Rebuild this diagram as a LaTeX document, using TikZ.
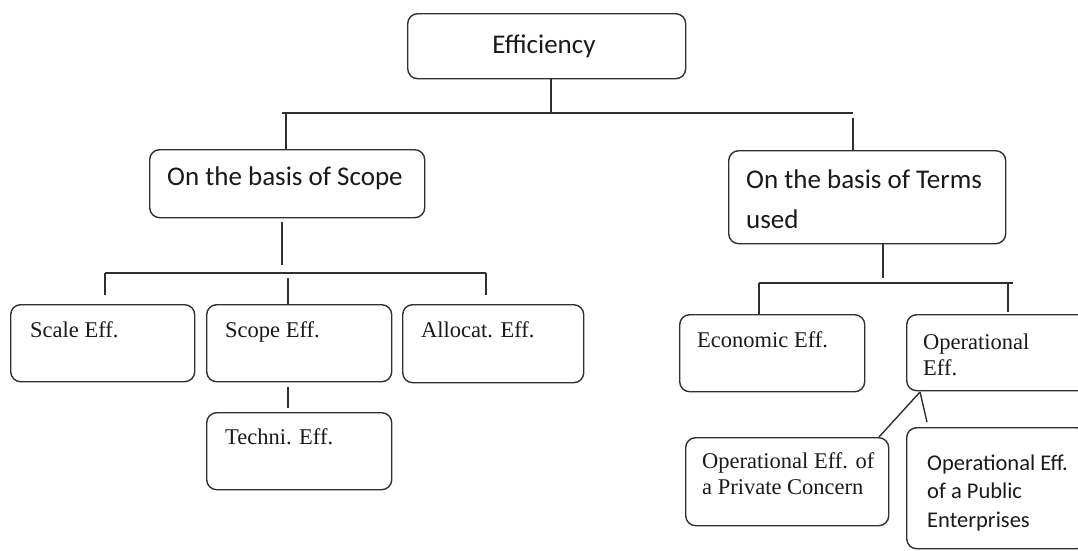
\documentclass[tikz,border=0pt]{standalone}
\usepackage{fontspec}
\setmainfont{Liberation Serif}
\newfontfamily\carl{Carlito}
\definecolor{ln}{HTML}{303030}
\definecolor{tx}{HTML}{1A1A1A}
\begin{document}
\begin{tikzpicture}[x=1pt,y=-1pt,
  box/.style={draw=ln, line width=1.4pt, rounded corners=10pt, anchor=north west, inner sep=0pt},
  conn/.style={draw=ln, line width=1.4pt},
  cbig/.style={font=\carl\fontsize{27}{32}\selectfont, inner sep=0pt, anchor=base west, text=tx},
  csm/.style={font=\carl\fontsize{22.5}{27}\selectfont, inner sep=0pt, anchor=base west, text=tx},
  tms/.style={font=\fontsize{22.5}{26}\selectfont, inner sep=0pt, anchor=base west, text=tx}]
\useasboundingbox (0,0) rectangle (1078,550);
\fill[white] (0,0) rectangle (1078,550);
\clip (0,0) rectangle (1078,550);

% boxes
\node[box, minimum width=278pt, minimum height=65pt] (eff) at (407,13) {};
\node[box, minimum width=275pt, minimum height=68pt] (scope) at (149,149) {};
\node[box, minimum width=277pt, minimum height=93pt] (terms) at (728,150) {};
\node[box, minimum width=184pt, minimum height=77pt] (scale) at (10,304) {};
\node[box, minimum width=185pt, minimum height=77pt] (scopeeff) at (206,304) {};
\node[box, minimum width=181pt, minimum height=78pt] (alloc) at (402,304) {};
\node[box, minimum width=185pt, minimum height=77pt] (techni) at (206,412) {};
\node[box, minimum width=185pt, minimum height=77pt] (econ) at (679,314) {};
\node[box, minimum width=190pt, minimum height=76pt] (oper) at (906,314) {};
\node[box, minimum width=203pt, minimum height=88pt] (priv) at (685,437) {};
\node[box, minimum width=180pt, minimum height=121pt] (pub) at (906,427) {};

% texts
\node[cbig, anchor=base] (effT) at (544,53) {Efficiency};
\node[cbig] (scopeT) at (167,185) {On the basis of Scope};
\node[cbig] (termsT1) at (746,188) {On the basis of Terms};
\node[cbig] (termsT2) at (746,228) {used};
\node[tms] (scaleT) at (30,337) {Scale Eff.};
\node[tms] (scopeeffT) at (225,337) {Scope Eff.};
\node[tms] (allocT) at (421,337) {Allocat. Eff.};
\node[tms] (techniT) at (225,444) {Techni. Eff.};
\node[tms] (econT) at (697,347) {Economic Eff.};
\node[tms] (operT1) at (923,349) {Operational};
\node[tms] (operT2) at (923,375) {Eff.};
\node[tms] (privT1) at (702,468) {Operational Eff. of};
\node[tms] (privT2) at (702,494) {a Private Concern};
\node[csm] (pubT1) at (927,470) {Operational Eff.};
\node[csm] (pubT2) at (927,498) {of a Public};
\node[csm] (pubT3) at (927,527) {Enterprises};

% junction coordinates
\coordinate (trunk) at (551,113);
\coordinate (barL) at (282,113);
\coordinate (barR) at (853,113);
\coordinate (dL) at (286,113);
\coordinate (dR) at (853,118);
\coordinate (s1) at (282,222);
\coordinate (s2) at (282,265);
\coordinate (r2L) at (105,273);
\coordinate (r2R) at (486,273);
\coordinate (r2M) at (288,278);
\coordinate (t1) at (288,387);
\coordinate (u1) at (883,243);
\coordinate (u2) at (883,278);
\coordinate (r3L) at (759,283);
\coordinate (r3R) at (1013,283);
\coordinate (r3M) at (1008,283);
\coordinate (ob) at (920,392);
\coordinate (pb) at (927,422);
\coordinate (pe) at (879,437);

% connectors
\draw[conn] (trunk |- eff.south) -- (trunk);
\draw[conn] (barL) -- (barR);
\draw[conn] (dL) -- (dL |- scope.north);
\draw[conn] (dR) -- (dR |- terms.north);
\draw[conn] (s1) -- (s2);
\draw[conn] (r2L) -- (r2R);
\draw[conn] (r2L) -- ++(0,22);
\draw[conn] (r2R) -- ++(0,22);
\draw[conn] (r2M) -- (r2M |- scopeeff.north);
\draw[conn] (t1) -- ++(0,21);
\draw[conn] (u1) -- (u2);
\draw[conn] (r3L) -- (r3R);
\draw[conn] (r3L) -- (r3L |- econ.north);
\draw[conn] (r3M) -- ++(0,29);
\draw[conn] (ob) -- (pe);
\draw[conn] (ob) -- (pb);
\end{tikzpicture}
\end{document}
